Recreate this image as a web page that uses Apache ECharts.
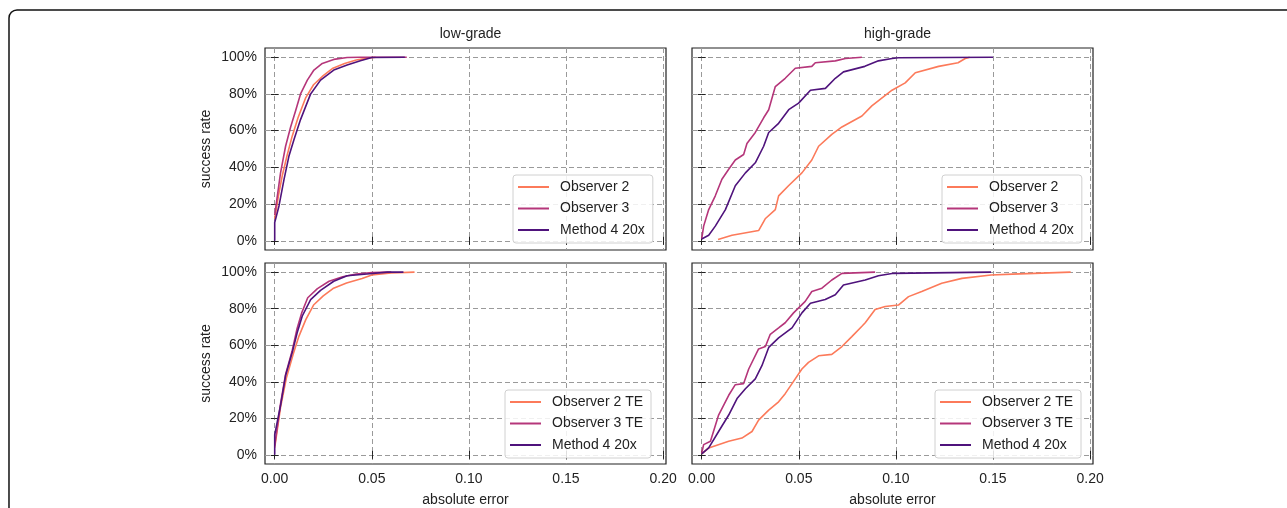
<!DOCTYPE html>
<html>
<head>
<meta charset="utf-8">
<title>success rate vs absolute error</title>
<script src="https://cdn.jsdelivr.net/npm/echarts@6/dist/echarts.min.js"></script>
<style>
  html, body { margin: 0; padding: 0; background: #fff; }
  #chartMain { width: 1287px; height: 508px; }
</style>
</head>
<body>
<div id="chartMain"></div>
<script>
// tick values
var xTicks = [0, 0.05, 0.10, 0.15, 0.20];
var yTicks = [0, 0.2, 0.4, 0.6, 0.8, 1.0];
var panelTitles = ['low-grade', 'high-grade'];

// low-grade, top row
var lowObs2 = [[0,0.12],[0.002,0.25],[0.004,0.36],[0.0065,0.47],[0.009,0.57],[0.012,0.67],[0.016,0.78],[0.02,0.85],[0.025,0.9],[0.03,0.94],[0.036,0.965],[0.042,0.985],[0.048,0.995],[0.052,1.0]];
var lowObs3 = [[0,0.14],[0.003,0.37],[0.0056,0.515],[0.0082,0.62],[0.0108,0.71],[0.0133,0.8],[0.0168,0.875],[0.0202,0.93],[0.0245,0.966],[0.0304,0.988],[0.0373,0.998],[0.044,1.0],[0.068,1.0]];
var lowM4 = [[0,0],[0,0.1],[0.0022,0.19],[0.0048,0.335],[0.0073,0.46],[0.0099,0.55],[0.0133,0.66],[0.0185,0.8],[0.0236,0.875],[0.0304,0.93],[0.0373,0.957],[0.0441,0.98],[0.05,0.998],[0.067,1.0]];

// high-grade, top row
var highObs2 = [[0.0084,0.007],[0.0156,0.03],[0.0293,0.056],[0.0327,0.12],[0.0379,0.17],[0.0396,0.245],[0.0447,0.30],[0.0516,0.37],[0.0567,0.44],[0.0602,0.515],[0.067,0.58],[0.0722,0.62],[0.0825,0.68],[0.0876,0.735],[0.098,0.82],[0.1048,0.86],[0.11,0.915],[0.122,0.95],[0.132,0.97],[0.1357,0.993],[0.138,1.0]];
var highObs3 = [[0,0.01],[0.001,0.08],[0.0036,0.17],[0.007,0.245],[0.0104,0.335],[0.0139,0.39],[0.0173,0.44],[0.0216,0.47],[0.0233,0.53],[0.0276,0.59],[0.0319,0.67],[0.0345,0.714],[0.0379,0.84],[0.043,0.885],[0.0482,0.94],[0.0567,0.95],[0.0585,0.97],[0.0688,0.98],[0.074,0.993],[0.0825,1.0]];
var highM4 = [[0,0.01],[0.0036,0.03],[0.007,0.08],[0.0122,0.17],[0.0173,0.30],[0.0225,0.37],[0.0276,0.425],[0.0319,0.515],[0.0345,0.59],[0.0396,0.64],[0.0448,0.714],[0.0499,0.75],[0.056,0.82],[0.0637,0.83],[0.0688,0.885],[0.073,0.92],[0.084,0.95],[0.091,0.98],[0.098,0.993],[0.1013,0.997],[0.15,1.0]];

// low-grade, bottom row (TE)
var lowObs2TE = [[0,0.04],[0.003,0.26],[0.006,0.42],[0.0095,0.55],[0.0125,0.65],[0.016,0.74],[0.02,0.82],[0.025,0.87],[0.03,0.91],[0.037,0.94],[0.045,0.965],[0.05,0.985],[0.06,0.995],[0.072,1.0]];
var lowObs3TE = [[0,0.05],[0.003,0.28],[0.0056,0.44],[0.009,0.57],[0.0115,0.69],[0.014,0.78],[0.017,0.86],[0.022,0.91],[0.028,0.95],[0.035,0.975],[0.042,0.99],[0.05,0.998],[0.06,1.0]];
var lowM4b = [[0,0],[0,0.11],[0.003,0.27],[0.0056,0.434],[0.009,0.56],[0.0116,0.67],[0.0142,0.76],[0.0185,0.85],[0.0236,0.90],[0.0304,0.95],[0.0373,0.98],[0.0475,0.99],[0.058,1.0],[0.0663,1.0]];

// high-grade, bottom row (TE)
var highObs2TE = [[0,0.005],[0.0036,0.038],[0.0139,0.074],[0.0207,0.092],[0.0259,0.128],[0.0293,0.19],[0.0345,0.245],[0.0396,0.29],[0.043,0.335],[0.0465,0.39],[0.0516,0.47],[0.055,0.506],[0.0602,0.542],[0.067,0.55],[0.0722,0.593],[0.0773,0.647],[0.0825,0.704],[0.0842,0.723],[0.0893,0.795],[0.0945,0.812],[0.1013,0.82],[0.1065,0.866],[0.1133,0.894],[0.1236,0.939],[0.134,0.966],[0.149,0.984],[0.16,0.989],[0.19,1.0]];
var highObs3TE = [[0,0.01],[0.001,0.056],[0.0045,0.074],[0.0087,0.218],[0.0139,0.326],[0.0173,0.384],[0.0216,0.39],[0.0242,0.47],[0.0293,0.58],[0.0328,0.593],[0.0353,0.66],[0.0396,0.695],[0.043,0.723],[0.0473,0.777],[0.0533,0.84],[0.0567,0.894],[0.0619,0.912],[0.067,0.957],[0.0722,0.993],[0.0893,1.0]];
var highM4b = [[0,0.005],[0.0036,0.038],[0.0087,0.128],[0.0139,0.218],[0.0182,0.308],[0.0225,0.362],[0.0276,0.416],[0.031,0.488],[0.0345,0.588],[0.0396,0.64],[0.0465,0.695],[0.0516,0.777],[0.056,0.83],[0.0636,0.85],[0.0688,0.876],[0.073,0.93],[0.0842,0.957],[0.091,0.98],[0.098,0.993],[0.149,1.0]];

var colors = { obs2: '#fc7a5a', obs3: '#b5367a', m4: '#4f137c' };
var FONT = 'Liberation Sans, Arial, sans-serif';

var grids = [
	{left: 265, top: 48, width: 401, height: 202},
	{left: 692, top: 48, width: 401, height: 202},
	{left: 265, top: 263, width: 401, height: 203},
	{left: 692, top: 263, width: 401, height: 203}
];

var panels = [
	{ names: ['Observer 2', 'Observer 3', 'Method 4 20x'], data: [lowObs2, lowObs3, lowM4], legend: {left: 513, top: 175} },
	{ names: ['Observer 2', 'Observer 3', 'Method 4 20x'], data: [highObs2, highObs3, highM4], legend: {left: 942, top: 175} },
	{ names: ['Observer 2 TE', 'Observer 3 TE', 'Method 4 20x'], data: [lowObs2TE, lowObs3TE, lowM4b], legend: {left: 505, top: 390} },
	{ names: ['Observer 2 TE', 'Observer 3 TE', 'Method 4 20x'], data: [highObs2TE, highObs3TE, highM4b], legend: {left: 935, top: 390} }
];

function makeXAxis(i, pos) {
	var bottom = pos == 'bottom';
	var showLabel = bottom && i >= 2;
	return {
		type: 'value', gridIndex: i, position: pos,
		min: -0.005, max: 0.2015,
		name: showLabel ? 'absolute error' : '',
		nameLocation: 'middle', nameGap: 29,
		nameTextStyle: { fontFamily: FONT, fontSize: 14, color: '#222' },
		axisLine: { show: false },
		axisTick: { show: true, inside: true, length: 4, customValues: xTicks, lineStyle: { color: '#222', width: 1 } },
		axisLabel: { show: showLabel, customValues: xTicks, margin: 8, fontFamily: FONT, fontSize: 14, color: '#222',
			formatter: function(v) { return v.toFixed(2); } },
		splitLine: { show: bottom, lineStyle: { color: '#9a9a9a', type: [5, 3], width: 1 } }
	};
}

function makeYAxis(i, pos) {
	var left = pos == 'left';
	var showLabel = left && (i % 2 == 0);
	return {
		type: 'value', gridIndex: i, position: pos,
		min: -0.05, max: 1.05,
		name: showLabel ? 'success rate' : '',
		nameLocation: 'middle', nameGap: 52,
		nameTextStyle: { fontFamily: FONT, fontSize: 14, color: '#222' },
		axisLine: { show: false },
		axisTick: { show: true, inside: true, length: 4, customValues: yTicks, lineStyle: { color: '#222', width: 1 } },
		axisLabel: { show: showLabel, customValues: yTicks, margin: 8, fontFamily: FONT, fontSize: 14, color: '#222',
			formatter: function(v) { return Math.round(v * 100) + '%'; } },
		splitLine: { show: left, lineStyle: { color: '#9a9a9a', type: [5, 3], width: 1 } }
	};
}

function getCharts() {
	var xAxes = [], yAxes = [], series = [], legends = [], titles = [];
	var cols = [colors.obs2, colors.obs3, colors.m4];
	for (var i = 0; i < 4; i++) {
		var g = grids[i];
		g.show = true;
		g.borderColor = '#222';
		g.borderWidth = 1.2;
		g.containLabel = false;
		xAxes.push(makeXAxis(i, 'bottom'));
		xAxes.push(makeXAxis(i, 'top'));
		yAxes.push(makeYAxis(i, 'left'));
		yAxes.push(makeYAxis(i, 'right'));

		var p = panels[i];
		for (var k = 0; k < 3; k++) {
			series.push({
				type: 'line', name: p.names[k],
				xAxisIndex: 2 * i, yAxisIndex: 2 * i,
				data: p.data[k],
				showSymbol: false, symbol: 'none',
				color: cols[k],
				lineStyle: { color: cols[k], width: 1.6 },
				z: 2 + k
			});
		}
		legends.push({
			left: p.legend.left, top: p.legend.top,
			orient: 'vertical',
			data: p.names,
			icon: 'rect', itemWidth: 31, itemHeight: 2, itemGap: 5.5,
			padding: [4, 8, 5, 5],
			backgroundColor: 'rgba(255,255,255,0.85)',
			borderColor: '#d0d0d0', borderWidth: 1, borderRadius: 3,
			selectedMode: false,
			textStyle: { fontFamily: FONT, fontSize: 14, color: '#222', lineHeight: 16, padding: [0, 0, 0, 6] }
		});
	}
	for (var t = 0; t < 2; t++) {
		titles.push({
			text: panelTitles[t],
			left: grids[t].left + grids[t].width / 2, top: 22,
			textAlign: 'center',
			textStyle: { fontFamily: FONT, fontSize: 14, fontWeight: 'normal', color: '#222' }
		});
	}

	return {
		animation: false,
		backgroundColor: '#fff',
		title: titles,
		grid: grids,
		xAxis: xAxes,
		yAxis: yAxes,
		legend: legends,
		series: series,
		graphic: [{
			type: 'rect',
			shape: { x: 9, y: 10, width: 1400, height: 600, r: 8 },
			style: { fill: 'none', stroke: '#111', lineWidth: 1.5 },
			silent: true, z: 100
		}]
	};
}

var myChart = echarts.init(document.getElementById('chartMain'));
myChart.setOption(getCharts());
</script>
</body>
</html>
